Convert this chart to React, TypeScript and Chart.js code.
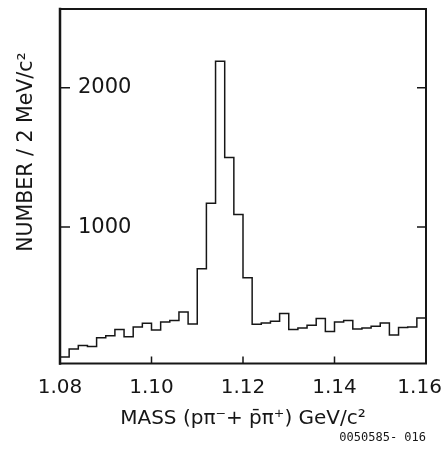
import React, { useEffect, useRef } from "react";
import { Chart, registerables } from "chart.js";

Chart.register(...registerables);

// Lower edges of the 2 MeV mass bins (GeV/c^2)
const massBinEdges = [
  1.080, 1.082, 1.084, 1.086, 1.088, 1.090, 1.092, 1.094, 1.096, 1.098,
  1.100, 1.102, 1.104, 1.106, 1.108, 1.110, 1.112, 1.114, 1.116, 1.118,
  1.120, 1.122, 1.124, 1.126, 1.128, 1.130, 1.132, 1.134, 1.136, 1.138,
  1.140, 1.142, 1.144, 1.146, 1.148, 1.150, 1.152, 1.154, 1.156, 1.158,
];
const massUpperEdge = 1.16;

// Number of entries per 2 MeV/c^2 bin
const counts = [
  67, 124, 150, 143, 205, 219, 264, 212, 283, 310,
  262, 319, 329, 390, 305, 700, 1171, 2190, 1500, 1090,
  636, 302, 312, 324, 379, 264, 276, 295, 343, 250,
  319, 329, 269, 276, 288, 312, 226, 279, 283, 348,
];

const xTickValues = [1.08, 1.1, 1.12, 1.14, 1.16];
const xTickLabels = ["1.08", "1.10", "1.12", "1.14", "1.16"];
const yTickValues = [1000, 2000];
const yTickLabels = ["1000", "2000"];

const xTitle = "MASS (p\u03C0\u207B+ p\u0304\u03C0\u207A) GeV/c\u00B2";
const yTitle = "NUMBER / 2 MeV/c\u00B2";
const figureCode = "0050585- 016";

const INK = "#161616";

const framePlugin = {
  id: "frameAndTicks",
  afterDatasetsDraw(chart: any) {
    const { ctx, chartArea } = chart;
    const x = chart.scales.x;
    const y = chart.scales.y;
    const { left, right, top, bottom } = chartArea;
    ctx.save();
    ctx.strokeStyle = INK;
    ctx.lineCap = "square";
    ctx.lineWidth = 2;
    ctx.beginPath();
    ctx.moveTo(left, top);
    ctx.lineTo(right, top);
    ctx.lineTo(right, bottom);
    ctx.lineTo(left, bottom);
    ctx.stroke();
    ctx.lineWidth = 2.5;
    ctx.beginPath();
    ctx.moveTo(left, top);
    ctx.lineTo(left, bottom);
    ctx.stroke();
    ctx.lineWidth = 1.5;
    ctx.lineCap = "butt";
    ctx.beginPath();
    yTickValues.forEach((v) => {
      const py = y.getPixelForValue(v);
      ctx.moveTo(left, py);
      ctx.lineTo(left + 10, py);
      ctx.moveTo(right, py);
      ctx.lineTo(right - 9, py);
    });
    xTickValues.slice(1, -1).forEach((v) => {
      const px = x.getPixelForValue(v);
      ctx.moveTo(px, bottom);
      ctx.lineTo(px, bottom - 7);
    });
    ctx.stroke();
    ctx.restore();
  },
  afterDraw(chart: any) {
    const { ctx } = chart;
    ctx.save();
    ctx.translate(27, 152);
    ctx.rotate(-Math.PI / 2);
    ctx.fillStyle = INK;
    ctx.font = '20.5px "DejaVu Sans"';
    ctx.textAlign = "center";
    ctx.textBaseline = "middle";
    ctx.fillText(yTitle, 0, 0);
    ctx.restore();
  },
};

export default function App() {
  const canvasRef = useRef<HTMLCanvasElement | null>(null);

  useEffect(() => {
    if (!canvasRef.current) return;
    const points = massBinEdges.map((m, i) => ({ x: m, y: counts[i] }));
    points.push({ x: massUpperEdge, y: counts[counts.length - 1] });

    const chart = new Chart(canvasRef.current, {
      type: "line",
      data: {
        datasets: [
          {
            data: points,
            stepped: "before",
            borderColor: INK,
            borderWidth: 1.5,
            pointRadius: 0,
            fill: false,
          } as any,
        ],
      },
      options: {
        animation: false,
        responsive: false,
        maintainAspectRatio: false,
        devicePixelRatio: 1,
        layout: { padding: { left: 0, right: 22, top: 9, bottom: 0 } },
        plugins: {
          legend: { display: false },
          tooltip: { enabled: false },
          title: { display: false },
          subtitle: {
            display: true,
            text: figureCode,
            position: "bottom",
            align: "end",
            color: INK,
            font: { family: '"DejaVu Sans Mono"', size: 12, weight: "normal" },
            padding: { top: 0, bottom: 4 },
          },
        },
        scales: {
          x: {
            type: "linear",
            min: 1.08,
            max: 1.16,
            grid: { display: false },
            border: { display: false },
            afterBuildTicks: (scale: any) => {
              scale.ticks = xTickValues.map((v) => ({ value: v }));
            },
            afterFit: (scale: any) => {
              scale.height = 67;
              scale.paddingLeft = 0;
              scale.paddingRight = 0;
              scale.paddingTop = 0;
              scale.paddingBottom = 0;
            },
            ticks: {
              autoSkip: false,
              maxRotation: 0,
              padding: 4,
              color: INK,
              font: { family: '"DejaVu Sans"', size: 20 },
              callback: (_v: any, i: number) =>
                i === xTickLabels.length - 1 ? xTickLabels[i] + "\u2007" : xTickLabels[i],
            },
            title: {
              display: true,
              text: xTitle,
              color: INK,
              font: { family: '"DejaVu Sans"', size: 20 },
              padding: { top: 0, bottom: 0 },
            },
          },
          y: {
            type: "linear",
            min: 20,
            max: 2565,
            grid: { display: false },
            border: { display: false },
            afterBuildTicks: (scale: any) => {
              scale.ticks = yTickValues.map((v) => ({ value: v }));
            },
            afterFit: (scale: any) => {
              scale.width = 60;
              scale.paddingTop = 0;
              scale.paddingBottom = 0;
              scale.paddingLeft = 0;
              scale.paddingRight = 0;
            },
            ticks: {
              mirror: true,
              padding: 18,
              color: INK,
              font: { family: '"DejaVu Sans"', size: 21 },
              callback: (_v: any, i: number) => yTickLabels[i],
            },
          },
        },
      } as any,
      plugins: [framePlugin],
    });
    return () => chart.destroy();
  }, []);

  return (
    <div style={{ position: "fixed", left: 0, top: 0, width: 448, height: 449, background: "#fff" }}>
      <canvas ref={canvasRef} width={448} height={449} style={{ display: "block" }} />
    </div>
  );
}
